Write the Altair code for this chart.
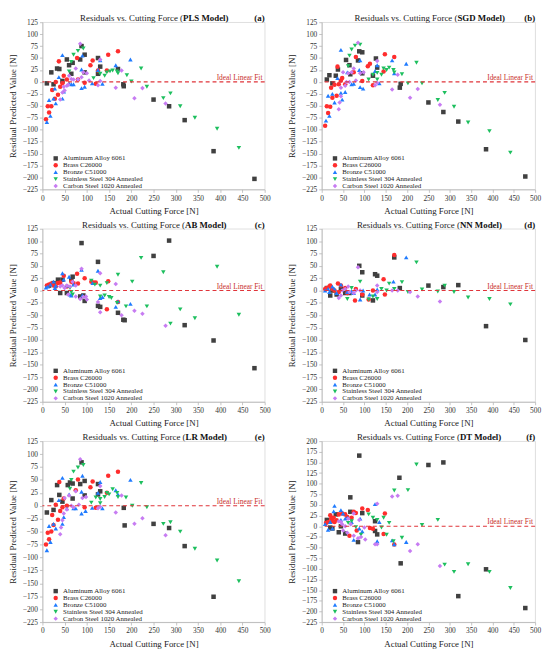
import altair as alt
import pandas as pd

FONT = "Liberation Serif"
SERIES = ["Aluminum Alloy 6061", "Brass C26000", "Bronze C51000",
          "Stainless Steel 304 Annealed", "Carbon Steel 1020 Annealed"]
COLORS = ["#404040", "#ff2d2d", "#1f7bff", "#1dbf5e", "#c77cf2"]
SHAPES = ["square", "circle", "triangle-up", "triangle-down", "diamond"]
X_TICKS = list(range(0, 501, 50))
Y_TICKS = list(range(-225, 126, 25))
Y_TICKS_DT = list(range(-225, 201, 25))

# ---------------- (a) PLS ----------------
PLS_AL = [(10,-3),(20,20),(25,-5),(33,28),(38,27),(45,2),(55,47),(60,35),(65,17),(68,40),(85,47),(88,75),
          (95,57),(95,20),(125,17),(125,50),(130,32),(170,27),(182,-5),(183,-9),(250,-37),(285,-51),(320,-80),
          (385,-145),(477,-203)]
PLS_BR = [(8,-78),(12,-51),(15,-64),(20,-51),(22,-17),(28,-35),(30,0),(35,-27),(37,43),(40,-10),(45,-3),(48,13),
          (55,5),(78,50),(80,5),(95,-2),(108,35),(113,45),(120,-4),(125,24),(148,57),(170,64),(145,24)]
PLS_BZ = [(10,-84),(15,-38),(18,-71),(25,-35),(28,-14),(30,-45),(37,10),(45,56),(45,-35),(48,-20),(60,-3),(65,-5),
          (70,-5),(88,26),(90,55),(88,-13),(95,-10),(112,-3),(125,25),(130,45),(135,-4),(165,35),(198,47)]
PLS_SS = [(60,22),(65,42),(70,57),(80,65),(92,70),(115,8),(130,17),(140,13),(145,20),(152,22),(158,24),(168,22),
          (170,18),(190,14),(200,1),(222,28),(235,-10),(272,-34),(288,-24),(310,-51),(343,-75),(393,-98),(442,-138)]
PLS_CS = [(40,-37),(45,-22),(48,-10),(50,-18),(55,-8),(58,-6),(60,13),(65,6),(70,5),(75,28),(80,5),(85,80),(88,10),
          (92,20),(100,18),(105,3),(125,-7),(130,47),(130,2),(165,-12),(178,24),(207,-34),(225,-13),(277,-45)]

# ---------------- (b) SGD ----------------
SGD_AL = [(12,5),(18,14),(25,-3),(33,13),(38,26),(57,46),(65,35),(67,16),(88,64),(85,45),(95,62),(95,18),(120,13),
          (127,49),(130,30),(183,-12),(185,-4),(250,-43),(285,-63),(320,-83),(385,-141),(477,-198)]
SGD_BR = [(8,-92),(12,-51),(15,-65),(20,-52),(22,-12),(25,-33),(30,-6),(35,-29),(37,32),(40,-5),(45,3),(48,8),(55,-5),
          (75,20),(80,52),(95,2),(108,33),(113,38),(120,-7),(145,22),(148,58),(170,52)]
SGD_BZ = [(10,-81),(15,-29),(18,-71),(25,-25),(30,-43),(37,8),(45,67),(45,-23),(48,-37),(55,-21),(60,20),(70,-5),(75,-4),
          (88,25),(90,45),(90,-11),(97,-14),(125,23),(130,35),(135,-3),(165,45),(170,18),(198,38)]
SGD_SS = [(62,33),(65,55),(70,68),(78,76),(90,78),(110,5),(120,15),(130,19),(130,5),(140,15),(145,28),(152,25),(158,30),
          (168,25),(170,20),(188,16),(202,-3),(222,40),(235,-3),(272,-38),(288,-23),(310,-52),(343,-85),(393,-103),(442,-148)]
SGD_CS = [(40,-57),(42,-43),(45,-30),(45,-12),(50,20),(55,-8),(58,0),(62,18),(65,0),(70,20),(75,28),(80,3),(85,82),
          (90,18),(98,20),(125,-7),(130,44),(130,-2),(165,-16),(178,15),(207,-33),(225,-15),(277,-48)]

# ---------------- (c) AB ----------------
AB_AL = [(15,10),(25,15),(35,22),(40,-5),(45,22),(55,-5),(65,22),(68,28),(88,96),(85,-12),(92,-10),(95,-21),(125,58),
         (125,-31),(130,-33),(170,-45),(182,-59),(185,-60),(250,70),(285,101),(320,-70),(385,-101),(477,-157)]
AB_BR = [(10,10),(15,12),(20,14),(25,10),(30,8),(35,15),(40,16),(48,30),(55,8),(65,18),(70,15),(78,34),(80,14),(95,25),
         (110,18),(115,16),(120,16),(145,-38),(148,19),(170,-23)]
AB_BZ = [(8,6),(12,8),(18,12),(25,18),(28,5),(30,10),(45,35),(48,22),(55,10),(60,28),(62,-8),(65,-10),(70,12),(88,42),
         (90,-10),(113,15),(125,40),(130,-15),(135,-13),(165,-33),(170,-22),(198,-27)]
AB_SS = [(62,5),(65,-3),(68,-8),(110,20),(118,12),(130,10),(130,-12),(140,-10),(145,15),(150,-13),(155,-15),(168,-25),
         (170,32),(188,-32),(202,18),(222,66),(235,-32),(272,37),(288,-67),(310,-38),(343,-56),(393,48),(442,-49)]
AB_CS = [(40,8),(45,10),(50,5),(55,10),(58,-8),(62,8),(68,18),(75,10),(75,-12),(85,-17),(88,44),(92,-13),(100,-18),
         (98,-12),(125,-23),(130,35),(130,-44),(165,13),(178,-50),(207,-41),(225,-47),(277,-71)]

# ---------------- (d) NN ----------------
NN_AL = [(12,5),(20,-10),(25,0),(35,-8),(45,3),(55,-5),(65,-5),(88,50),(95,37),(95,-10),(120,-20),(125,33),(130,30),
         (170,67),(183,5),(250,10),(285,7),(320,11),(385,-72),(477,-100)]
NN_BR = [(8,3),(12,5),(18,8),(20,10),(25,3),(30,0),(38,14),(40,-3),(45,10),(55,5),(60,-5),(78,-20),(80,3),(95,-8),
         (110,-18),(120,0),(145,23),(148,-8),(170,72)]
NN_BZ = [(8,0),(15,3),(18,-3),(25,8),(30,3),(35,-5),(45,12),(60,-3),(70,-2),(75,-5),(90,-18),(97,0),(112,-8),(125,-8),
         (130,2),(168,18),(198,67)]
NN_SS = [(60,-17),(70,5),(90,18),(110,-18),(120,-12),(130,-17),(140,3),(152,0),(158,14),(170,3),(188,17),(202,-3),
         (222,57),(235,2),(272,-2),(288,10),(310,-3),(343,-14),(393,-17),(442,-28)]
NN_CS = [(40,-15),(45,-10),(48,0),(55,3),(62,8),(65,-3),(75,-5),(80,0),(85,47),(90,0),(130,10),(130,-3),(165,0),
         (178,0),(207,-3),(225,-12),(277,-22)]

# ---------------- (e) LR ----------------
LR_AL = [(10,-13),(20,11),(25,-8),(33,40),(38,21),(45,8),(57,40),(62,45),(68,43),(68,14),(85,42),(88,84),(95,48),
         (95,20),(125,42),(125,22),(130,28),(183,-4),(185,-38),(250,-35),(285,-43),(320,-78),(385,-176)]
LR_BR = [(8,-75),(12,-52),(15,-65),(20,-50),(22,-18),(25,-37),(30,2),(35,-27),(38,46),(40,-10),(45,-3),(48,14),(55,0),
         (75,30),(80,51),(95,-3),(108,36),(113,47),(120,-4),(145,25),(148,58),(170,66)]
LR_BZ = [(10,-86),(15,-39),(18,-70),(25,-35),(30,-44),(37,11),(45,54),(45,-35),(48,-22),(55,-5),(60,22),(70,-5),(75,-5),
         (88,27),(90,58),(88,-15),(97,-10),(112,-4),(125,25),(130,46),(135,-5),(165,30),(170,22),(198,50)]
LR_SS = [(62,33),(65,50),(70,66),(80,74),(92,79),(110,6),(120,16),(130,13),(130,5),(140,17),(145,25),(150,22),(158,32),
         (168,25),(170,17),(188,16),(202,0),(222,44),(235,-3),(272,-35),(288,-32),(310,-50),(343,-83),(393,-106),(442,-146)]
LR_CS = [(40,-55),(42,-42),(45,-28),(48,-15),(50,15),(55,-7),(60,20),(65,0),(70,-3),(75,28),(82,2),(85,90),(90,15),
         (98,17),(125,-5),(130,38),(130,-2),(165,-13),(178,20),(207,-35),(225,-24),(277,-57)]

# ---------------- (f) DT ----------------
DT_AL = [(12,15),(20,-3),(25,-5),(33,28),(40,-14),(45,0),(55,-17),(67,68),(67,34),(85,-37),(88,166),(95,31),(125,12),
         (125,-11),(130,-19),(182,114),(185,-87),(250,144),(285,150),(320,-164),(385,-101),(477,-192)]
DT_BR = [(10,8),(15,10),(20,26),(22,18),(25,12),(28,20),(30,10),(35,14),(40,28),(48,30),(55,28),(60,22),(65,-22),
         (70,20),(75,34),(80,31),(82,-10),(95,42),(108,38),(113,-4),(120,-6),(145,-18),(148,30),(170,-43)]
DT_BZ = [(8,5),(15,-8),(20,10),(25,-5),(28,35),(30,48),(45,38),(45,15),(50,30),(55,18),(60,20),(70,10),(75,-32),
         (88,-5),(90,18),(95,-12),(125,52),(130,-35),(135,10),(165,-33),(170,-42),(198,-37)]
DT_SS = [(62,8),(70,12),(80,-2),(92,-20),(110,28),(120,20),(130,15),(140,-3),(145,20),(152,-20),(158,8),(168,-35),
         (170,84),(188,-27),(202,85),(222,145),(235,3),(272,15),(288,-90),(310,-107),(343,-89),(393,-107),(442,-145)]
DT_CS = [(40,12),(45,10),(48,5),(50,-10),(55,0),(60,-15),(62,18),(68,5),(75,30),(75,-22),(85,-28),(88,15),(92,-25),
         (100,-3),(102,-31),(125,-42),(130,-42),(130,53),(165,70),(178,72),(207,-58),(225,-42),(277,-93)]


def panel(model, letter, groups, ydom, yticks, w, h, bold_w):
    rows = []
    for name, pts in zip(SERIES, groups):
        for fx, ry in pts:
            rows.append({"force": fx, "resid": ry, "material": name})
    df = pd.DataFrame(rows)
    one = pd.DataFrame({"force": [495], "resid": [0]})
    xs = alt.Scale(domain=[0, 500], nice=False, zero=False)
    ys = alt.Scale(domain=ydom, nice=False, zero=False)
    xax = alt.Axis(values=X_TICKS, title="Actual Cutting Force [N]", labelOverlap=False, labelFlush=False)
    yax = alt.Axis(values=yticks, title="Residual Predicted Value [N]", labelOverlap=False, labelFlush=False)
    X = alt.X("force:Q", scale=xs, axis=xax)
    Y = alt.Y("resid:Q", scale=ys, axis=yax)
    leg = alt.Legend(title=None, orient="none", legendX=10, legendY=h - 35,
                     labelFont=FONT, labelFontSize=7, labelColor="#222", symbolSize=20,
                     rowPadding=-1, padding=0, labelOffset=4, symbolStrokeWidth=0)
    pts = alt.Chart(df).mark_point(filled=True, opacity=1, size=21, strokeWidth=0).encode(
        x=X, y=Y,
        color=alt.Color("material:N", scale=alt.Scale(domain=SERIES, range=COLORS), legend=leg),
        shape=alt.Shape("material:N", scale=alt.Scale(domain=SERIES, range=SHAPES), legend=leg),
    )
    rule = alt.Chart(one).mark_rule(color="#e0343a", strokeDash=[4, 3], strokeWidth=1.1).encode(y=Y)
    fit = alt.Chart(one).mark_text(text="Ideal Linear Fit", font=FONT, fontSize=7.5, color="#c9302c",
                                   align="right", baseline="alphabetic", dy=-2).encode(x=X, y=Y)
    split = w / 2 + (105 - bold_w) / 2
    t1 = alt.Chart(one).mark_text(text="Residuals vs. Cutting Force (", font=FONT, fontSize=9,
                                  color="#222", align="right", baseline="alphabetic").encode(
        x=alt.value(split), y=alt.value(-1))
    t2 = alt.Chart(one).mark_text(text=model + " Model)", font=FONT, fontSize=9, fontWeight="bold",
                                  color="#111", align="left", baseline="alphabetic").encode(
        x=alt.value(split), y=alt.value(-1))
    t3 = alt.Chart(one).mark_text(text="(" + letter + ")", font=FONT, fontSize=9, fontWeight="bold",
                                  color="#111", align="right", baseline="alphabetic").encode(
        x=alt.value(w), y=alt.value(-1))
    return alt.layer(pts, rule, fit, t1, t2, t3).properties(width=w, height=h)


WL, WR = 226, 217
H1, H2, H3 = 170, 176, 184
YD = [-225, 125]

pa = panel("PLS", "a", [PLS_AL, PLS_BR, PLS_BZ, PLS_SS, PLS_CS], YD, Y_TICKS, WL, H1, 45)
pb = panel("SGD", "b", [SGD_AL, SGD_BR, SGD_BZ, SGD_SS, SGD_CS], YD, Y_TICKS, WR, H1, 46)
pc = panel("AB", "c", [AB_AL, AB_BR, AB_BZ, AB_SS, AB_CS], YD, Y_TICKS, WL, H2, 41)
pd_ = panel("NN", "d", [NN_AL, NN_BR, NN_BZ, NN_SS, NN_CS], YD, Y_TICKS, WR, H2, 41)
pe = panel("LR", "e", [LR_AL, LR_BR, LR_BZ, LR_SS, LR_CS], YD, Y_TICKS, WL, H3, 40)
pf = panel("DT", "f", [DT_AL, DT_BR, DT_BZ, DT_SS, DT_CS], [-225, 200], Y_TICKS_DT, WR, H3, 41)

ind = dict(color="independent", shape="independent")
r1 = alt.hconcat(pa, pb, spacing=16).resolve_legend(**ind)
r2 = alt.hconcat(pc, pd_, spacing=16).resolve_legend(**ind)
r3 = alt.hconcat(pe, pf, spacing=16).resolve_legend(**ind)

chart = alt.vconcat(r1, r2, r3, spacing=4).resolve_legend(**ind).properties(
    padding=0, background="white"
).configure_view(stroke="#d6d6d6", strokeWidth=0.8).configure_axis(
    grid=False, labelFont=FONT, labelFontSize=7.5, labelColor="#333",
    labelPadding=2, tickSize=3, tickColor="#b5b5b5", domainColor="#b5b5b5", domainWidth=0.8,
    tickWidth=0.8, titleFont=FONT, titleFontSize=9, titleFontWeight="normal", titleColor="#222",
    titlePadding=5
)

chart.save("out.html", embed_options={"renderer": "svg", "actions": False})
